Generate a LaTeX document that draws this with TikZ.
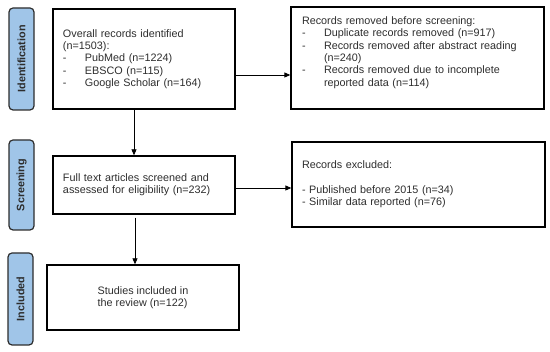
\documentclass[tikz,border=0pt]{standalone}
\usepackage{fontspec}
\setmainfont{Liberation Sans}
\usetikzlibrary{arrows.meta}
\definecolor{Cb}{RGB}{160,197,232}
\definecolor{Ce}{RGB}{45,45,45}
\newcommand{\itm}[1]{\makebox[22pt][l]{-}#1}

\begin{document}
\begin{tikzpicture}[x=1pt,y=-1pt,
    box/.style={draw,line width=1.3pt,rectangle,align=left,inner sep=0pt,
      font=\fontsize{10.8}{12.3}\selectfont,text=Ce},
    phase/.style={draw=Ce,fill=Cb,line width=1.2pt,rounded corners=4pt,
      rotate=90,minimum height=25pt,inner sep=0pt,text=Ce,
      font=\fontsize{10.8}{12.3}\selectfont\bfseries},
    arr/.style={line width=0.8pt,-{Triangle[length=6pt,width=5pt]}}]
    \useasboundingbox (0,0) rectangle (550,352);
    % phases
    \node[phase,minimum width=102pt] (idn) at (21.5,59) {Identification};
    \node[phase,minimum width=90pt] (scr) at (21.5,185) {Screening};
    \node[phase,minimum width=92pt] (inc) at (20.5,299) {Included};
    % boxes
    \node[box,minimum width=182pt,minimum height=100pt,text width=162pt]
      (recs) at (144,59)
      {Overall records identified\\(n=1503):\\\itm{PubMed (n=1224)}\\
       \itm{EBSCO (n=115)}\\\itm{Google Scholar (n=164)}};
    \node[box,minimum width=253pt,minimum height=102pt,text width=231pt]
      (rmvd) at (417.5,58)
      {Records removed before screening:\\
       \itm{Duplicate records removed (n=917)}\\
       \itm{Records removed after abstract reading}\\\hspace*{22pt}(n=240)\\
       \itm{Records removed due to incomplete}\\\hspace*{22pt}reported data (n=114)\\[1pt]\mbox{}};
    \node[box,minimum width=182pt,minimum height=58pt,text width=162pt]
      (full) at (144,185)
      {Full text articles screened and\\assessed for eligibility (n=232)};
    \node[box,minimum width=253pt,minimum height=85pt,text width=233pt]
      (excl) at (418.5,184.5)
      {Records excluded:\\[12.3pt]- Published before 2015 (n=34)\\
       - Similar data reported (n=76)};
    \node[box,minimum width=192pt,minimum height=65pt]
      (incl) at (143,297.5)
      {Studies included in\\the review (n=122)};
    % arrows
    \draw[arr] ([yshift=-16pt]recs.east) -- ([yshift=-16pt]recs.east -| rmvd.west);
    \draw[arr] ([xshift=-10pt]recs.south) -- ([xshift=-10pt]recs.south |- full.north);
    \draw[arr] ([yshift=-3pt]full.east) -- ([yshift=-3pt]full.east -| excl.west);
    \draw[arr] ([xshift=-9pt,yshift=-3pt]full.south)
      -- ([xshift=-9pt]full.south |- incl.north);
\end{tikzpicture}
\end{document}
